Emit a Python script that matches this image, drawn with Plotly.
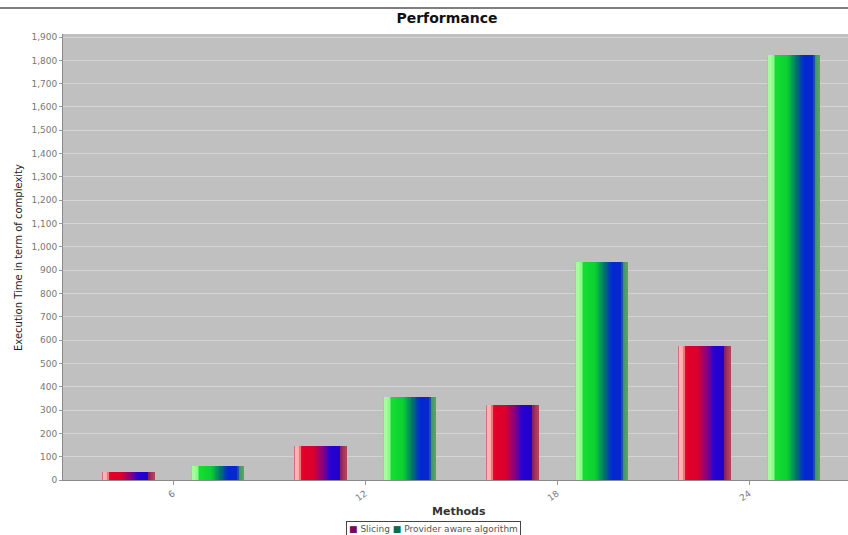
import plotly.graph_objects as go

# ---- data -------------------------------------------------------------
categories = ["6", "12", "18", "24"]
slicing = [36, 146, 323, 576]
provider = [61, 356, 935, 1822]
series_names = ["Slicing", "Provider aware algorithm"]
y_tick_values = list(range(0, 2000, 100))

# ---- styling ----------------------------------------------------------
# colour stops (fraction across bar width -> rgb) for the shaded bars
slicing_stops = [
    (0.00, (200, 80, 95)),
    (0.04, (255, 185, 185)),
    (0.10, (255, 165, 165)),
    (0.14, (225, 0, 40)),
    (0.36, (220, 0, 45)),
    (0.55, (135, 0, 130)),
    (0.68, (40, 0, 212)),
    (0.87, (35, 0, 200)),
    (0.89, (150, 40, 90)),
    (1.00, (175, 70, 95)),
]
provider_stops = [
    (0.00, (110, 215, 110)),
    (0.04, (170, 255, 160)),
    (0.11, (145, 250, 145)),
    (0.16, (20, 222, 50)),
    (0.38, (10, 208, 50)),
    (0.55, (0, 115, 110)),
    (0.70, (0, 40, 212)),
    (0.88, (10, 40, 200)),
    (0.90, (60, 150, 90)),
    (1.00, (85, 165, 105)),
]
legend_colours = ["#7a0a5e", "#0a6a5a"]


def colour_at(stops, f):
    for (f0, c0), (f1, c1) in zip(stops[:-1], stops[1:]):
        if f0 <= f <= f1:
            t = 0 if f1 == f0 else (f - f0) / (f1 - f0)
            r, g, b = (round(a + (b_ - a) * t) for a, b_ in zip(c0, c1))
            return f"rgb({r},{g},{b})"
    r, g, b = stops[-1][1]
    return f"rgb({r},{g},{b})"


x_pos = list(range(len(categories)))
bar_w = 0.276          # width of one bar in category units
series_shift = 0.232   # distance of each bar centre from the category centre
n_stripes = 40
stripe_w = bar_w / n_stripes

fig = go.Figure()

for name, values, stops, shift in [
    (series_names[0], slicing, slicing_stops, -series_shift),
    (series_names[1], provider, provider_stops, series_shift),
]:
    left = shift - bar_w / 2
    for k in range(n_stripes):
        frac = (k + 0.5) / n_stripes
        # each stripe runs to the bar's right edge; later stripes cover earlier
        fig.add_trace(
            go.Bar(
                x=x_pos,
                y=values,
                name=name,
                width=bar_w - k * stripe_w,
                offset=left + k * stripe_w,
                marker=dict(color=colour_at(stops, frac), line=dict(width=0)),
                showlegend=False,
                hoverinfo="name+y",
            )
        )

W, H = 848, 535
ml, mr, mt, mb = 63, 0, 34, 55
pw, ph = W - ml - mr, H - mt - mb


def px_x(px):
    return (px - ml) / pw


def px_y(py):
    return (H - mb - py) / ph


px_per_cat = 192.0
x_left = -110 / px_per_cat
x_right = len(categories) - 1 + 99 / px_per_cat

legend_text = (
    f'<span style="color:{legend_colours[0]}">■</span> {series_names[0]} '
    f'<span style="color:{legend_colours[1]}">■</span> {series_names[1]}'
)

fig.update_layout(
    width=W,
    height=H,
    margin=dict(l=ml, r=mr, t=mt, b=mb, autoexpand=False),
    paper_bgcolor="white",
    plot_bgcolor="#c0c0c0",
    barmode="overlay",
    bargap=0,
    showlegend=False,
    font=dict(family="DejaVu Sans", size=9, color="#666666"),
    title=dict(
        text="<b>Performance</b>",
        x=447 / W,
        xanchor="center",
        xref="container",
        y=1 - 18 / H,
        yref="container",
        yanchor="middle",
        font=dict(family="DejaVu Sans", size=14, color="#111111"),
    ),
    xaxis=dict(
        range=[x_left, x_right],
        tickvals=x_pos,
        ticktext=categories,
        tickangle=-35,
        ticks="outside",
        ticklen=4,
        tickcolor="#999999",
        showgrid=False,
        zeroline=False,
        showline=True,
        linecolor="#8a8a8a",
        linewidth=1,
        tickfont=dict(size=9, color="#777777"),
    ),
    yaxis=dict(
        range=[0, 1913],
        tickvals=y_tick_values,
        tickformat=",d",
        ticks="outside",
        ticklen=3,
        tickcolor="#999999",
        showgrid=True,
        gridcolor="#d4d4d4",
        gridwidth=1,
        zeroline=False,
        showline=True,
        linecolor="#8a8a8a",
        linewidth=1,
        tickfont=dict(size=9, color="#777777"),
    ),
    annotations=[
        dict(
            text="<b>Methods</b>",
            x=px_x(459), xref="paper",
            y=px_y(511), yref="paper",
            showarrow=False,
            font=dict(family="DejaVu Sans", size=11, color="#333333"),
            xanchor="center", yanchor="middle",
        ),
        dict(
            text="Execution Time in term of complexity",
            x=px_x(18), xref="paper",
            y=px_y(258), yref="paper",
            textangle=-90,
            showarrow=False,
            font=dict(family="DejaVu Sans", size=10, color="#222222"),
            xanchor="center", yanchor="middle",
        ),
        dict(
            text=legend_text,
            x=px_x(433), xref="paper",
            y=px_y(521), yref="paper",
            showarrow=False,
            font=dict(family="DejaVu Sans", size=9, color="#555555"),
            xanchor="center", yanchor="top",
            bordercolor="#444444", borderwidth=1, borderpad=2,
            bgcolor="white",
        ),
    ],
    shapes=[
        dict(
            type="line", xref="paper", yref="paper",
            x0=px_x(0), x1=1,
            y0=px_y(8), y1=px_y(8),
            line=dict(color="#555555", width=1.5),
        ),
    ],
)

fig.write_html("out.html")
